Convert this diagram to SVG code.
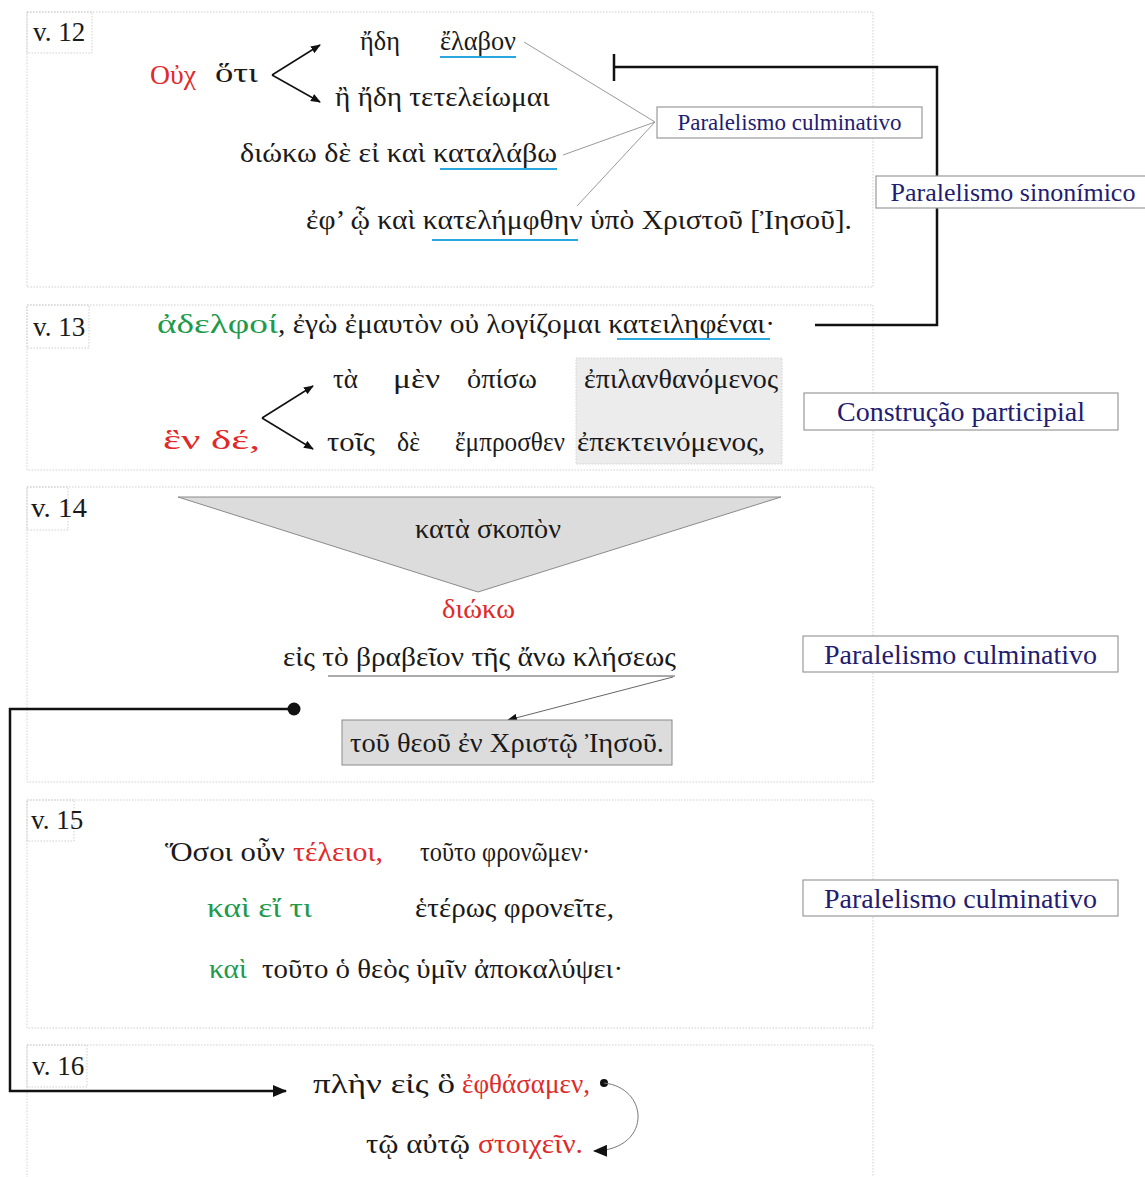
<svg xmlns="http://www.w3.org/2000/svg" width="1145" height="1177" viewBox="0 0 1145 1177">
<style>
.sec{fill:none;stroke:#cfcfcf;stroke-width:1;stroke-dasharray:1.5 1.5}
.vl{font-family:"Liberation Serif","Times New Roman",serif;font-size:27px;fill:#1a1a1a}
.g{font-family:"Liberation Serif","DejaVu Serif",serif;font-size:28px;fill:#1a1a1a}
.red{fill:#e02a2a}
.grn{fill:#1e9a4c}
.lbl{fill:#fff;stroke:#9a9a9a;stroke-width:1.2}
.lt{font-family:"Liberation Serif","Times New Roman",serif;fill:#231c70}
.ul{stroke:#2aa7df;stroke-width:1.8}
.thin{stroke:#9a9a9a;stroke-width:1;fill:none}
.blk{stroke:#111;stroke-width:2.5;fill:none}
</style>
<defs>
<marker id="ah" markerWidth="10" markerHeight="8" refX="9" refY="4" orient="auto" markerUnits="userSpaceOnUse">
<path d="M0,0 L10,4 L0,8 Z" fill="#111"/>
</marker>
<marker id="ahb" markerWidth="14" markerHeight="12" refX="13" refY="6" orient="auto" markerUnits="userSpaceOnUse">
<path d="M0,0 L14,6 L0,12 Z" fill="#111"/>
</marker>
</defs>

<!-- sections -->
<g id="sections">
<rect class="sec" x="27" y="12" width="846" height="275"/>
<rect class="sec" x="27" y="305" width="846" height="165"/>
<rect class="sec" x="27" y="487" width="846" height="295"/>
<rect class="sec" x="27" y="800" width="846" height="228"/>
<rect class="sec" x="27" y="1045" width="846" height="140"/>
</g>

<!-- connectors -->
<g id="connectors">
<line x1="272" y1="75" x2="320" y2="45" stroke="#111" stroke-width="1.5" marker-end="url(#ah)"/>
<line x1="272" y1="75" x2="320" y2="102" stroke="#111" stroke-width="1.5" marker-end="url(#ah)"/>
<line x1="262" y1="418" x2="313" y2="386" stroke="#111" stroke-width="1.5" marker-end="url(#ah)"/>
<line x1="262" y1="418" x2="313" y2="449" stroke="#111" stroke-width="1.5" marker-end="url(#ah)"/>
<line class="thin" x1="524" y1="42" x2="655" y2="122"/>
<line class="thin" x1="563" y1="155" x2="655" y2="122"/>
<line class="thin" x1="577" y1="206" x2="655" y2="122"/>
<path class="blk" d="M614,54 V81 M614,67 H937 V325 H815"/>
<line x1="673" y1="677" x2="508" y2="720" stroke="#666" stroke-width="1" marker-end="url(#ah)"/>
<circle cx="294" cy="709" r="6.5" fill="#111"/>
<path class="blk" d="M294,709 H10 V1091 H286" marker-end="url(#ahb)"/>
<circle cx="604" cy="1083" r="4" fill="#111"/>
<path d="M604,1083 C650,1088 652,1150 594,1151" fill="none" stroke="#777" stroke-width="1" marker-end="url(#ahb)"/>
</g>

<g id="v12-label"><rect class="sec" x="27" y="12" width="65" height="41"/><text class="vl" x="33" y="41">v. 12</text></g>
<g id="v13-label"><rect class="sec" x="27" y="305" width="62" height="43"/><text class="vl" x="33" y="336">v. 13</text></g>
<g id="v14-label"><rect class="sec" x="27" y="487" width="41" height="43"/><text class="vl" x="31" y="517" textLength="56" lengthAdjust="spacingAndGlyphs">v. 14</text></g>
<g id="v15-label"><rect class="sec" x="27" y="800" width="47" height="41"/><text class="vl" x="31" y="829">v. 15</text></g>
<g id="v16-label"><rect class="sec" x="27" y="1045" width="60" height="42"/><text class="vl" x="32" y="1075">v. 16</text></g>

<!-- v.12 -->
<g id="v12-ouch"><text class="g red" x="150" y="84" textLength="46" lengthAdjust="spacingAndGlyphs">Οὐχ</text></g>
<g id="v12-hoti"><text class="g" x="215" y="82" textLength="43" lengthAdjust="spacingAndGlyphs">ὅτι</text></g>
<g id="v12-line1"><text class="g" x="360" y="50" textLength="40" lengthAdjust="spacingAndGlyphs">ἤδη</text><text class="g" x="440" y="50" textLength="76" lengthAdjust="spacingAndGlyphs">ἔλαβον</text><line class="ul" x1="440" y1="57" x2="516" y2="57"/></g>
<g id="v12-line2"><text class="g" x="335" y="106" textLength="215" lengthAdjust="spacingAndGlyphs">ἢ ἤδη τετελείωμαι</text></g>
<g id="v12-line3"><text class="g" x="240" y="162" textLength="317" lengthAdjust="spacingAndGlyphs">διώκω δὲ εἰ καὶ καταλάβω</text><line class="ul" x1="440" y1="169" x2="557" y2="169"/></g>
<g id="v12-line4"><text class="g" x="306" y="229" textLength="546" lengthAdjust="spacingAndGlyphs">ἐφ’ ᾧ καὶ κατελήμφθην ὑπὸ Χριστοῦ [Ἰησοῦ].</text><line class="ul" x1="432" y1="240" x2="578" y2="240"/></g>
<g id="lbl-culm1"><rect class="lbl" x="657" y="107" width="265" height="31"/><text class="lt" x="789.5" y="130" font-size="23" text-anchor="middle">Paralelismo culminativo</text></g>
<g id="lbl-sinon"><rect class="lbl" x="876" y="176" width="270" height="32"/><text class="lt" x="1013" y="201" font-size="26" text-anchor="middle">Paralelismo sinonímico</text></g>

<!-- v.13 -->
<g id="v13-line1"><text class="g grn" x="157" y="333" textLength="121" lengthAdjust="spacingAndGlyphs">ἀδελφοί</text><text class="g" x="278" y="333" textLength="497" lengthAdjust="spacingAndGlyphs">, ἐγὼ ἐμαυτὸν οὐ λογίζομαι κατειληφέναι·</text><line class="ul" x1="617" y1="339" x2="770" y2="339"/></g>
<g id="v13-hen"><text class="g red" x="163" y="449" textLength="97" lengthAdjust="spacingAndGlyphs">ἓν δέ,</text></g>
<g id="v13-ta"><text class="g" x="333" y="388" textLength="25" lengthAdjust="spacingAndGlyphs">τὰ</text><text class="g" x="393" y="388" textLength="47" lengthAdjust="spacingAndGlyphs">μὲν</text><text class="g" x="467" y="388" textLength="70" lengthAdjust="spacingAndGlyphs">ὀπίσω</text></g>
<g id="v13-tois"><text class="g" x="327" y="451" textLength="48" lengthAdjust="spacingAndGlyphs">τοῖς</text><text class="g" x="397" y="451" textLength="23" lengthAdjust="spacingAndGlyphs">δὲ</text><text class="g" x="455" y="451" textLength="110" lengthAdjust="spacingAndGlyphs">ἔμπροσθεν</text></g>
<g id="v13-part"><rect x="576" y="358" width="206" height="106" fill="#ececec" stroke="#d0d0d0" stroke-dasharray="1.5 1.5"/><text class="g" x="584" y="388" textLength="194" lengthAdjust="spacingAndGlyphs">ἐπιλανθανόμενος</text><text class="g" x="577" y="451" textLength="188" lengthAdjust="spacingAndGlyphs">ἐπεκτεινόμενος,</text></g>
<g id="lbl-constr"><rect class="lbl" x="804" y="393" width="314" height="37"/><text class="lt" x="961" y="421" font-size="28" text-anchor="middle">Construção participial</text></g>

<!-- v.14 -->
<g id="v14-tri"><polygon points="178,497 781,497 478,592" fill="#dcdcdc" stroke="#8a8a8a" stroke-width="1"/><text class="g" x="415" y="538" textLength="146" lengthAdjust="spacingAndGlyphs">κατὰ σκοπὸν</text></g>
<g id="v14-dioko"><text class="g red" x="442" y="618" textLength="73" lengthAdjust="spacingAndGlyphs">διώκω</text></g>
<g id="v14-eis"><text class="g" x="283" y="666" textLength="393" lengthAdjust="spacingAndGlyphs">εἰς τὸ βραβεῖον τῆς ἄνω κλήσεως</text><line x1="328" y1="676" x2="675" y2="676" stroke="#555" stroke-width="1"/></g>
<g id="v14-theou"><rect x="342" y="720" width="330" height="45" fill="#dcdcdc" stroke="#8a8a8a" stroke-width="1"/><text class="g" x="350" y="752" textLength="314" lengthAdjust="spacingAndGlyphs">τοῦ θεοῦ ἐν Χριστῷ Ἰησοῦ.</text></g>
<g id="lbl-culm2"><rect class="lbl" x="803" y="636" width="315" height="36"/><text class="lt" x="960.5" y="664" font-size="28" text-anchor="middle">Paralelismo culminativo</text></g>

<!-- v.15 -->
<g id="v15-line1"><text class="g" x="165" y="861" textLength="120" lengthAdjust="spacingAndGlyphs">Ὅσοι οὖν</text><text class="g red" x="293" y="861" textLength="90" lengthAdjust="spacingAndGlyphs">τέλειοι,</text><text class="g" x="420" y="861" textLength="170" lengthAdjust="spacingAndGlyphs">τοῦτο φρονῶμεν·</text></g>
<g id="v15-line2"><text class="g grn" x="207" y="917" textLength="105" lengthAdjust="spacingAndGlyphs">καὶ εἴ τι</text><text class="g" x="415" y="917" textLength="199" lengthAdjust="spacingAndGlyphs">ἑτέρως φρονεῖτε,</text></g>
<g id="v15-line3"><text class="g grn" x="209" y="978" textLength="38" lengthAdjust="spacingAndGlyphs">καὶ</text><text class="g" x="262" y="978" textLength="361" lengthAdjust="spacingAndGlyphs">τοῦτο ὁ θεὸς ὑμῖν ἀποκαλύψει·</text></g>
<g id="lbl-culm3"><rect class="lbl" x="803" y="880" width="315" height="36"/><text class="lt" x="960.5" y="908" font-size="28" text-anchor="middle">Paralelismo culminativo</text></g>

<!-- v.16 -->
<g id="v16-line1"><text class="g" x="313" y="1093" textLength="142" lengthAdjust="spacingAndGlyphs">πλὴν εἰς ὃ</text><text class="g red" x="462" y="1093" textLength="128" lengthAdjust="spacingAndGlyphs">ἐφθάσαμεν,</text></g>
<g id="v16-line2"><text class="g" x="366" y="1153" textLength="104" lengthAdjust="spacingAndGlyphs">τῷ αὐτῷ</text><text class="g red" x="478" y="1153" textLength="105" lengthAdjust="spacingAndGlyphs">στοιχεῖν.</text></g>
</svg>
